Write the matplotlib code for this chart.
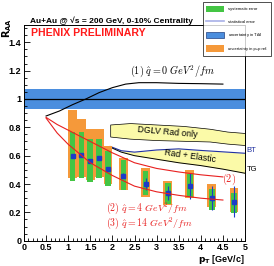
import matplotlib
matplotlib.use("Agg")
import matplotlib.pyplot as plt
from matplotlib.patches import Rectangle, Patch
from matplotlib.lines import Line2D
from matplotlib.ticker import MultipleLocator, FuncFormatter

plt.rcParams['font.family'] = ['Liberation Sans', 'DejaVu Sans']

# PHENIX pi0 R_AA, 0-10% central
pt = [1.1, 1.3, 1.5, 1.7, 1.9, 2.25, 2.75, 3.25, 3.75, 4.25, 4.75]
raa = [0.595, 0.605, 0.565, 0.585, 0.505, 0.46, 0.40, 0.335, 0.385, 0.30, 0.275]
stat_err = [0.01, 0.01, 0.012, 0.012, 0.015, 0.02, 0.04, 0.05, 0.09, 0.085, 0.11]
sys_lo = [0.42, 0.44, 0.415, 0.445, 0.385, 0.36, 0.32, 0.26, 0.31, 0.22, 0.195]
sys_hi = [0.765, 0.765, 0.715, 0.715, 0.63, 0.57, 0.495, 0.405, 0.47, 0.365, 0.34]
pp_lo = [0.44, 0.45, 0.43, 0.45, 0.40, 0.36, 0.31, 0.25, 0.30, 0.235, 0.205]
pp_hi = [0.92, 0.86, 0.79, 0.79, 0.665, 0.585, 0.51, 0.42, 0.50, 0.40, 0.375]
taa_lo, taa_hi = 0.927, 1.07

# model curves
q0_x = [0.5, 0.8, 1.1, 1.4, 1.7, 2.0, 2.3, 2.6, 3.0, 3.5, 4.0, 4.5]
q0_y = [0.88, 0.915, 0.96, 1.0, 1.045, 1.08, 1.105, 1.115, 1.115, 1.11, 1.108, 1.105]
q4_x = [0.5, 0.75, 1.0, 1.5, 2.0, 2.5, 3.0, 3.5, 4.0, 4.5]
q4_y = [0.87, 0.82, 0.78, 0.70, 0.62, 0.55, 0.51, 0.485, 0.465, 0.45]
q14_x = [0.5, 0.75, 1.0, 1.5, 2.0, 2.5, 3.0, 3.5, 4.0, 4.5]
q14_y = [0.865, 0.76, 0.68, 0.55, 0.46, 0.385, 0.345, 0.32, 0.30, 0.287]

dglv_x = [1.95, 2.4, 3.0, 3.6, 4.2, 4.6, 5.0]
dglv_hi = [0.82, 0.83, 0.82, 0.81, 0.79, 0.77, 0.76]
dglv_lo = [0.735, 0.72, 0.71, 0.705, 0.70, 0.685, 0.675]

re_x = [1.95, 2.2, 2.5, 3.0, 3.5, 4.0, 4.5, 5.0]
bt_y = [0.665, 0.635, 0.625, 0.64, 0.648, 0.637, 0.627, 0.617]
tg_y = [0.66, 0.625, 0.6, 0.575, 0.55, 0.53, 0.505, 0.476]

GREEN = '#44c544'
ORANGE = '#f5993a'
BLUE = '#4b8ede'
DKBLUE = '#1c3cc8'
RED = '#e82020'
YELLOW = '#fbfaa8'

fig = plt.figure(figsize=(2.74, 2.66), dpi=100)
ax = fig.add_axes([24 / 274, 25.3 / 266, 221 / 274, 215.7 / 266])
ax.set_xlim(0, 5)
ax.set_ylim(0, 1.522)

# T_AA band and unity line
ax.axhspan(taa_lo, taa_hi, color=BLUE, lw=0, zorder=1)
ax.axhline(1.0, color='black', lw=0.9, zorder=2)

# theory bands
ax.fill_between(dglv_x, dglv_lo, dglv_hi, color=YELLOW, ec='black', lw=0.5, zorder=2)
ax.fill_between(re_x[1:], tg_y[1:], bt_y[1:], color=YELLOW, lw=0, zorder=2)
ax.plot(re_x, bt_y, color='#2030a0', lw=0.8, zorder=3)
ax.plot(re_x, tg_y, color='black', lw=0.7, zorder=3)
ax.text(3.25, 0.765, 'DGLV Rad only', fontsize=6.3, rotation=-5, ha='center', va='center', zorder=4)
ax.text(3.75, 0.60, 'Rad + Elastic', fontsize=6.3, rotation=-8, ha='center', va='center', zorder=4)

# data uncertainties
for x, lo, hi in zip(pt, pp_lo, pp_hi):
    ax.add_patch(Rectangle((x - 0.1, lo), 0.2, hi - lo, color=ORANGE, lw=0, zorder=4))
for x, lo, hi in zip(pt, sys_lo, sys_hi):
    ax.add_patch(Rectangle((x - 0.065, lo), 0.13, hi - lo, color=GREEN, lw=0, zorder=5))
ax.errorbar(pt, raa, yerr=stat_err, fmt='s', color=DKBLUE, ms=2.8, elinewidth=0.8,
            capsize=0, zorder=6)

# energy loss curves
ax.plot(q0_x, q0_y, color='black', lw=0.8, zorder=7)
ax.plot(q4_x, q4_y, color=RED, lw=0.8, zorder=7)
ax.plot(q14_x, q14_y, color=RED, lw=0.8, zorder=7)
ax.text(2.4, 1.195, r'$(1)\ \hat{q}=0\ GeV^2/fm$', fontsize=7.3, va='center',
        math_fontfamily='cm', zorder=8)
ax.text(1.85, 0.232, r'$(2)\ \hat{q}=4\ GeV^2/fm$', fontsize=7.1, color=RED, va='center',
        math_fontfamily='cm', zorder=8)
ax.text(1.85, 0.124, r'$(3)\ \hat{q}=14\ GeV^2/fm$', fontsize=7.1, color=RED, va='center',
        math_fontfamily='cm', zorder=8)
ax.text(4.47, 0.43, r'$(2)$', fontsize=7.3, color=RED, va='center',
        math_fontfamily='cm', zorder=8)
ax.text(5.03, 0.633, 'BT', fontsize=5.5, color='#2030a0', va='center', clip_on=False)
ax.text(5.03, 0.50, 'TG', fontsize=5.5, color='black', va='center', clip_on=False)

ax.text(0.16, 1.466, 'PHENIX PRELIMINARY', fontsize=7.6, color='#ff1a1a',
        fontweight='bold', va='center')

# axes styling
fmt = FuncFormatter(lambda v, p: '%g' % v)
ax.xaxis.set_major_locator(MultipleLocator(0.5))
ax.xaxis.set_minor_locator(MultipleLocator(0.1))
ax.yaxis.set_major_locator(MultipleLocator(0.2))
ax.yaxis.set_minor_locator(MultipleLocator(0.05))
ax.xaxis.set_major_formatter(fmt)
ax.yaxis.set_major_formatter(fmt)
ax.tick_params(which='both', direction='in', width=0.6, labelsize=6.5, pad=2)
ax.tick_params(which='major', length=4)
ax.tick_params(which='minor', length=2)
for lbl in ax.get_xticklabels() + ax.get_yticklabels():
    lbl.set_fontweight('bold')
for s in ax.spines.values():
    s.set_linewidth(0.7)

fig.text(30 / 274, 1 - 25 / 266, 'Au+Au @ \u221as = 200 GeV, 0-10% Centrality',
         fontsize=6, fontweight='bold', va='bottom')
fig.text(7 / 274, 1 - 28 / 266, r'$\mathbf{R_{AA}}$', fontsize=7, rotation=90,
         ha='center', va='center', math_fontfamily='dejavusans')
fig.text(245 / 274, 6 / 266, r'$\mathbf{p_T}$ [GeV/c]', fontsize=6.5, fontweight='bold',
         ha='right', va='center', math_fontfamily='dejavusans')

handles = [
    Patch(facecolor=GREEN, edgecolor='none'),
    Line2D([], [], color='#a8b0e8', lw=1.2),
    Patch(facecolor=BLUE, edgecolor='#204080', lw=0.5),
    Patch(facecolor=ORANGE, edgecolor='none'),
]
labels = ['systematic error', 'statistical error', 'uncertainty in T$_{AA}$',
          'uncertainty in p+p ref.']
leg = fig.legend(handles, labels, loc='upper right', bbox_to_anchor=(0.997, 1.0),
                 fontsize=3.0, frameon=True, fancybox=False, edgecolor='black',
                 handlelength=4.2, handleheight=2.0, labelspacing=1.5,
                 borderpad=0.9, handletextpad=1.0)
leg.get_frame().set_linewidth(0.6)
leg.set_zorder(20)

fig.savefig('out.png', dpi=100)
